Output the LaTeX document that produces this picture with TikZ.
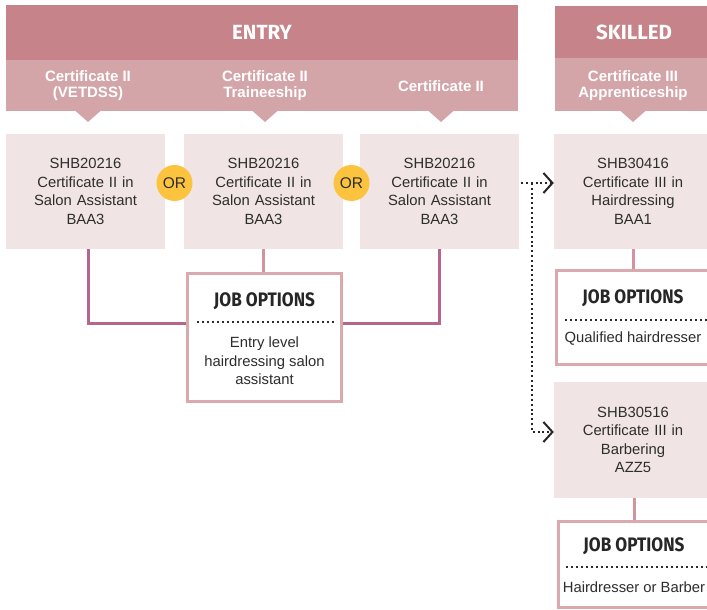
\documentclass[tikz,border=0pt]{standalone}
\usepackage{fontspec}
\setmainfont{Liberation Sans}
\newfontfamily\condfont[FakeStretch=0.88]{Fira Sans}
\newfontfamily\bandfont{Fira Sans}
\usepackage{xcolor}
\usepackage{tikz}
\usetikzlibrary{arrows.meta}
\usetikzlibrary{positioning}

\definecolor{bandred}{HTML}{C6848A}
\definecolor{subred}{HTML}{D4A5A8}
\definecolor{coursepink}{HTML}{F1E4E4}
\definecolor{oryellow}{HTML}{FCC43E}
\definecolor{jobpink}{HTML}{D9A9AE}
\definecolor{elbowmauve}{HTML}{B5668F}
\definecolor{stempink}{HTML}{D3939F}
\definecolor{textgray}{HTML}{2D2D2D}

\tikzset{
  band/.style={fill=bandred, text=white, inner sep=0pt,
    font=\bandfont\bfseries\fontsize{20.5}{24}\selectfont},
  subband/.style={fill=subred, inner sep=0pt},
  sublabel/.style={text=white, align=center,
    font=\bfseries\fontsize{15}{16}\selectfont},
  course/.style={fill=coursepink, text=textgray, minimum width=159pt,
    minimum height=115pt, text width=150pt, align=center, inner sep=0pt,
    font=\fontsize{14.8}{18.6}\selectfont},
  orbadge/.style={circle, fill=oryellow, minimum size=36pt, inner sep=0pt,
    text=textgray, font=\fontsize{15.5}{17}\selectfont},
  jobbox/.style={draw=jobpink, line width=3pt, fill=white, inner sep=0pt},
  jobtitle/.style={text=black!85, font=\condfont\bfseries\fontsize{19.5}{22}\selectfont},
  jobtext/.style={text=textgray, align=center, font=\fontsize{14.8}{18.6}\selectfont},
  jobsep/.style={textgray, line width=2pt, dash pattern=on 2pt off 3pt},
  elbow/.style={elbowmauve, line width=3pt},
  stem/.style={stempink, line width=3pt},
  pathway/.style={black!85, line width=2pt, dash pattern=on 2pt off 2.8pt,
    -{Straight Barb[length=9pt,width=20pt]}}
}

\begin{document}
\begin{tikzpicture}[x=1pt,y=-1pt]
\useasboundingbox (0,0) rectangle (707,610);
\node [band, minimum width=512pt, minimum height=55pt] (entry) at (262,32.5) {ENTRY};
\node [subband, minimum width=512pt, minimum height=51pt] (entrysub) at (262,85.5) {};
\node [band, minimum width=158pt, minimum height=52pt] (skilled) at (634,32) {SKILLED};
\node [subband, minimum width=158pt, minimum height=53pt] (skilledsub) at (634,84.5) {};
\foreach \x in {88,265,441,633}
  \fill [subred] (\x-13,110.5) -- (\x+13,110.5) -- (\x,122) -- cycle;
\node [sublabel] (vetlabel) at (88,86) {Certificate II\\(VETDSS)};
\node [sublabel] (traineelabel) at (265,86) {Certificate II\\Traineeship};
\node [sublabel] (certlabel) at (441,86) {Certificate II};
\node [sublabel] (apprlabel) at (633,86) {Certificate III\\Apprenticeship};

\node [course] (vet) at (85.5,191.5) {SHB20216\\Certificate II in\\Salon Assistant\\BAA3};
\node [course] (trainee) at (263.5,191.5) {SHB20216\\Certificate II in\\Salon Assistant\\BAA3};
\node [course] (cert) at (439.5,191.5) {SHB20216\\Certificate II in\\Salon Assistant\\BAA3};
\node [course, minimum width=158pt] (hair) at (633,191.5) {SHB30416\\Certificate III in\\Hairdressing\\BAA1};
\node [course, minimum width=158pt, minimum height=116pt] (barber) at (633,440) {SHB30516\\Certificate III in\\Barbering\\AZZ5};
\node [orbadge] (or1) at (174.5,183) {OR};
\node [orbadge] (or2) at (351.5,183) {OR};

\node [jobbox, minimum width=154pt, minimum height=128pt] (entryjob) at (264.5,337.5) {};
\node [jobtitle] (entryjobtitle) at (264.5,301) {JOB OPTIONS};
\draw [jobsep] (197,322) -- (336,322);
\node [jobtext] (entryjobtext) at (264.5,361) {Entry level\\hairdressing salon\\assistant};

\node [jobbox, minimum width=155pt, minimum height=94pt] (hairjob) at (634,317.5) {};
\node [jobtitle] (hairjobtitle) at (633,298) {JOB OPTIONS};
\draw [jobsep] (565,320) -- (712,320);
\node [jobtext] (hairjobtext) at (633,339) {Qualified hairdresser};

\node [jobbox, minimum width=155pt, minimum height=86pt] (barberjob) at (635.5,564.5) {};
\node [jobtitle] (barberjobtitle) at (634,546) {JOB OPTIONS};
\draw [jobsep] (566,567) -- (712,567);
\node [jobtext] (barberjobtext) at (634,587) {Hairdresser or Barber};

\draw [elbow] ([xshift=2.5pt]vet.south) |- ([yshift=14.5pt]entryjob.west);
\draw [elbow] (cert.south) |- ([yshift=14.5pt]entryjob.east);
\draw [stem] (trainee.south) -- (trainee.south |- entryjob.north);
\draw [stem] (hair.south) -- (hair.south |- hairjob.north);
\draw [stem] ([xshift=1.5pt]barber.south) -- ([xshift=1.5pt]barber.south |- barberjob.north);

\coordinate (fork) at ([xshift=13pt,yshift=8.5pt]cert.east);
\draw [pathway] ([xshift=2pt,yshift=8.5pt]cert.east) -- ([yshift=8.5pt]hair.west);
\draw [pathway] (fork) |- ([yshift=8pt]barber.west);
\end{tikzpicture}
\end{document}
